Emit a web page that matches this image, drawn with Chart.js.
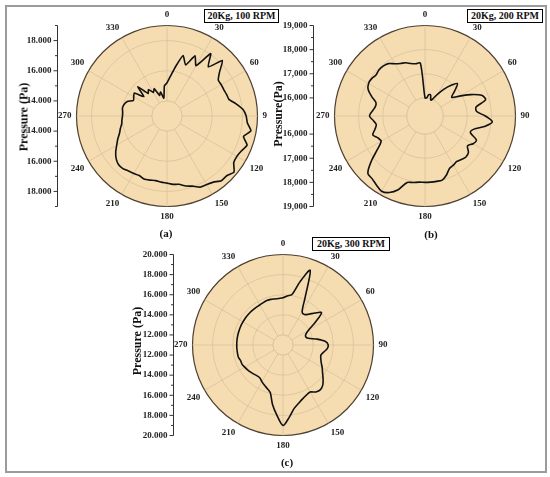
<!DOCTYPE html>
<html>
<head>
<meta charset="utf-8">
<script src="https://cdn.jsdelivr.net/npm/chart.js@4.4.1/dist/chart.umd.min.js"></script>
<style>
  body { margin: 0; background: #fff; }
  #page { position: relative; width: 550px; height: 477px; overflow: hidden; font-family: 'Liberation Serif', serif; font-weight: bold; color: #111; }
  .frame { position: absolute; left: 5px; top: 5px; width: 538px; height: 464px; border: 2px solid #9b9b9b; }
  .panel { position: absolute; overflow: hidden; }
  .panel canvas { display: block; }
  .tag { position: absolute; border: 1px solid #000; font-size: 10px; line-height: 12px; text-align: center; background: #fff; }
  .ytitle { position: absolute; width: 120px; text-align: center; font-size: 12px; transform: translate(-50%, -50%) rotate(-90deg); white-space: nowrap; }
  .sub { position: absolute; font-size: 11px; transform: translate(-50%, -50%); }
</style>
</head>
<body>
<div id="page">
  <div class="frame"></div>
  <div class="panel" style="left:0; top:0; width:267px; height:240px;"><canvas id="chartA" width="275" height="240"></canvas></div>
  <div class="panel" style="left:267px; top:0; width:278px; height:240px;"><canvas id="chartB" width="278" height="240"></canvas></div>
  <div class="panel" style="left:100px; top:228px; width:360px; height:242px;"><canvas id="chartC" width="360" height="242"></canvas></div>

  <div class="tag" style="left:204px; top:9px; width:73px; height:12px;">20Kg, 100 RPM</div>
  <div class="tag" style="left:467px; top:9px; width:74px; height:12px;">20Kg, 200 RPM</div>
  <div class="tag" style="left:312px; top:237px; width:76px; height:12px;">20Kg, 300 RPM</div>

  <div class="ytitle" style="left:24px; top:117px;">Pressure (Pa)</div>
  <div class="ytitle" style="left:278px; top:114px;">Pressure(Pa)</div>
  <div class="ytitle" style="left:137px; top:341px;">Pressure (Pa)</div>

  <div class="sub" style="left:166px; top:233px;">(a)</div>
  <div class="sub" style="left:431px; top:234px;">(b)</div>
  <div class="sub" style="left:287px; top:462px;">(c)</div>
</div>
<script>
// # Angles (degrees), every 5
const angleLabels = Array.from({ length: 72 }, (_, i) => String(i * 5));

// # Pressure (Pa) read at each angle
const pressureA = [
  15200, 15650, 16350, 17150, 16600, 17400, 16850, 18050, 17250, 18200,
  17550, 17150, 17150, 17150, 17200, 17250, 17650, 18050, 18250, 18350,
  18650, 18250, 18650, 18450, 18350, 18400, 18800, 18600, 18600, 18350,
  18250, 18200, 17950, 17800, 17600, 17550, 17450, 17400, 17350, 17400,
  17450, 17350, 17400, 17450, 17550, 17550, 17400, 17150, 16850, 16600,
  16350, 16200, 16050, 16000, 15950, 15950, 16000, 15950, 15800, 15450,
  15550, 15650, 15000, 15750, 14950, 15150, 14800, 15000, 14450, 14650,
  14200, 15000
];
const pressureB = [
  16000, 16000, 16150, 16150, 15950, 16050, 16300, 16600, 16900, 17150,
  16850, 16600, 16900, 17350, 17750, 17850, 17400, 17400, 17750, 18050,
  17750, 17350, 17250, 17600, 17550, 17400, 17600, 17650, 17600, 17550,
  17600, 17650, 17850, 18000, 18000, 18000, 18000, 18000, 18050, 18100,
  18500, 18750, 18850, 18750, 18650, 18600, 18150, 17650, 17350, 17400,
  17550, 17400, 17300, 17400, 17550, 17450, 17350, 17350, 17600, 17850,
  17950, 17950, 17900, 17950, 17950, 17900, 17750, 17650, 17600, 17500,
  17450, 17450
];
const pressureC = [
  15700, 15900, 16100, 17500, 18900, 16200, 14800, 14700, 15000, 15500,
  16000, 14900, 13900, 13500, 13400, 13600, 14400, 15200, 15500, 15400,
  15100, 14900, 15000, 15200, 15500, 15800, 16200, 16600, 16800, 16700,
  16400, 16500, 16700, 17000, 17400, 18200, 19000, 18000, 17000, 15900,
  15600, 15400, 15200, 15000, 15000, 15100, 15200, 15300, 15400, 15500,
  15500, 15600, 15600, 15600, 15600, 15600, 15600, 15600, 15600, 15600,
  15600, 15600, 15600, 15600, 15600, 15600, 15600, 15650, 15700, 15700,
  15650, 15650
];

// # Radial range [centre, rim], grid rings and side-axis ticks
const rangeA = [13000, 19000];
const ringsA = [14000, 16000, 18000, 19000];
const labelsA = [14000, 16000, 18000];
const minorA = [15000, 17000, 19000];

const rangeB = [15250, 19000];
const ringsB = [16000, 17000, 18000, 19000];
const labelsB = [16000, 17000, 18000, 19000];
const minorB = [16500, 17500, 18500];

const rangeC = [11000, 20000];
const ringsC = [12000, 14000, 16000, 18000, 20000];
const labelsC = [12000, 14000, 16000, 18000, 20000];
const minorC = [13000, 15000, 17000, 19000];

const tan = '#f6ddb1';
const ringCol = '#d8c29c';
const rimCol = '#4d4033';

// # Hole in the middle and the straight pressure axis on the left
const sideAxis = {
  id: 'sideAxis',
  beforeDatasetsDraw(chart, args, o) {
    const r = chart.scales.r;
    const ctx = chart.ctx;
    const hr = r.getDistanceFromCenterForValue(o.hole);
    ctx.save();
    ctx.beginPath();
    ctx.arc(r.xCenter, r.yCenter, hr, 0, Math.PI * 2);
    ctx.fillStyle = tan;
    ctx.fill();
    ctx.strokeStyle = ringCol;
    ctx.lineWidth = 0.8;
    ctx.stroke();
    ctx.restore();
  },
  afterDraw(chart, args, o) {
    const r = chart.scales.r;
    const ctx = chart.ctx;
    const x = Math.round(r.xCenter - o.gap) + 0.5;
    const yc = r.yCenter;
    const rim = r.getDistanceFromCenterForValue(r.max);
    ctx.save();
    ctx.strokeStyle = '#333';
    ctx.lineWidth = 1;
    ctx.beginPath();
    ctx.moveTo(x, yc - rim);
    ctx.lineTo(x, yc + rim);
    ctx.stroke();
    ctx.font = 'bold 9px "Liberation Serif"';
    ctx.fillStyle = '#222';
    ctx.textAlign = 'right';
    ctx.textBaseline = 'middle';
    o.labels.forEach((v) => {
      const d = r.getDistanceFromCenterForValue(v);
      [yc - d, yc + d].forEach((y) => {
        ctx.beginPath();
        ctx.moveTo(x - 4, y);
        ctx.lineTo(x, y);
        ctx.stroke();
        ctx.fillText(v.toLocaleString('en-US').replace(',', o.sep), x - 6, y);
      });
    });
    o.minor.forEach((v) => {
      const d = r.getDistanceFromCenterForValue(v);
      [yc - d, yc + d].forEach((y) => {
        ctx.beginPath();
        ctx.moveTo(x - 2.5, y);
        ctx.lineTo(x, y);
        ctx.stroke();
      });
    });
    ctx.restore();
  }
};

// # Build one polar panel
const polar = (id, values, range, rings, labels, minor, sep, gap, tension, pad) => {
  const [lo, hi] = range;
  return new Chart(document.getElementById(id), {
    type: 'radar',
    data: {
      labels: angleLabels,
      datasets: [{
        data: values,
        borderColor: '#111',
        borderWidth: 1.6,
        pointRadius: 0,
        fill: false,
        tension: tension
      }]
    },
    options: {
      responsive: false,
      animation: false,
      layout: { padding: pad },
      plugins: {
        legend: { display: false },
        tooltip: { enabled: false },
        sideAxis: { hole: rings[0], labels: labels, minor: minor, sep: sep, gap: gap }
      },
      scales: {
        r: {
          min: lo,
          max: hi,
          backgroundColor: tan,
          afterBuildTicks: (s) => { s.ticks = [lo, ...rings].map((v) => ({ value: v })); },
          grid: {
            circular: true,
            color: (c) => (c.tick && c.tick.value === hi ? rimCol : ringCol),
            lineWidth: (c) => (c.tick && c.tick.value === hi ? 1.2 : 0.8)
          },
          angleLines: {
            color: ringCol,
            lineWidth: (c) => (c.index % 6 === 0 ? 0.8 : 0)
          },
          ticks: { display: false },
          pointLabels: {
            color: '#222',
            padding: 5,
            font: { family: 'Liberation Serif', weight: 'bold', size: 9 },
            callback: (label, i) => (i % 6 === 0 ? label : '')
          }
        }
      }
    },
    plugins: [sideAxis]
  });
};

polar('chartA', pressureA, rangeA, ringsA, labelsA, minorA, '.', 110, 0.15, { left: 56, top: 8, right: 1, bottom: 14 });
polar('chartB', pressureB, rangeB, ringsB, labelsB, minorB, ',', 112, 0.3, { left: 47, top: 8, right: 13, bottom: 14 });
polar('chartC', pressureC, rangeC, ringsC, labelsC, minorC, '.', 110, 0.3, { left: 72, top: 9, right: 70, bottom: 15 });
</script>
</body>
</html>
